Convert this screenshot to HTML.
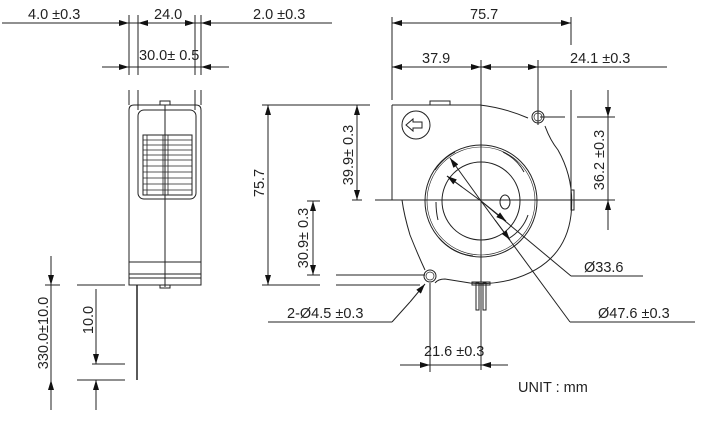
<!DOCTYPE html>
<html><head><meta charset="utf-8"><style>
html,body{margin:0;padding:0;background:#fff}
svg{display:block}
text{font-family:"Liberation Sans",sans-serif;font-size:14.5px;fill:#222}
</style></head><body>
<svg width="710" height="448" viewBox="0 0 710 448" xmlns="http://www.w3.org/2000/svg">
<defs>
<marker id="a" viewBox="0 0 10 6" refX="10" refY="3" markerWidth="14" markerHeight="6" orient="auto-start-reverse" markerUnits="userSpaceOnUse"><path d="M0,0L10,3L0,6z" fill="#111"/></marker>
</defs>
<g stroke="#222" stroke-width="1" fill="none">
<line x1="2" y1="23" x2="332" y2="23"/>
<line x1="115" y1="23" x2="129" y2="23" marker-end="url(#a)"/>
<line x1="152" y1="23" x2="138" y2="23" marker-end="url(#a)"/>
<line x1="181" y1="23" x2="195" y2="23" marker-end="url(#a)"/>
<line x1="215" y1="23" x2="201" y2="23" marker-end="url(#a)"/>
<line x1="102" y1="67" x2="229" y2="67"/>
<line x1="115" y1="67" x2="129" y2="67" marker-end="url(#a)"/>
<line x1="215" y1="67" x2="201" y2="67" marker-end="url(#a)"/>
<line x1="129" y1="15" x2="129" y2="75"/><line x1="138" y1="15" x2="138" y2="75"/>
<line x1="195" y1="15" x2="195" y2="75"/><line x1="201" y1="15" x2="201" y2="75"/>
<line x1="129" y1="90" x2="129" y2="105"/><line x1="138" y1="90" x2="138" y2="110"/>
<line x1="195" y1="90" x2="195" y2="110"/><line x1="201" y1="90" x2="201" y2="105"/>
<path d="M129,285V110q0,-5 5,-5H196q5,0 5,5V285Z"/>
<rect x="138" y="110" width="58" height="89" rx="6"/>
<rect x="143" y="135" width="49" height="60"/>
<g stroke-width="0.8">
<line x1="143" y1="140" x2="192" y2="140"/><line x1="143" y1="145" x2="192" y2="145"/>
<line x1="143" y1="150" x2="192" y2="150"/><line x1="143" y1="155" x2="192" y2="155"/>
<line x1="143" y1="160" x2="192" y2="160"/><line x1="143" y1="166" x2="192" y2="166"/>
<line x1="143" y1="172" x2="192" y2="172"/><line x1="143" y1="178" x2="192" y2="178"/>
<line x1="143" y1="184" x2="192" y2="184"/><line x1="143" y1="190" x2="192" y2="190"/>
<line x1="147" y1="135" x2="147" y2="195"/><line x1="163" y1="135" x2="163" y2="195"/><line x1="168" y1="135" x2="168" y2="195"/>
</g>
<rect x="160" y="101" width="10" height="4"/>
<rect x="160" y="285" width="10" height="3"/>
<line x1="165" y1="105" x2="165" y2="287"/>
<line x1="129" y1="262" x2="201" y2="262"/><line x1="129" y1="274" x2="201" y2="274"/><line x1="129" y1="278" x2="201" y2="278"/>
<line x1="137" y1="285" x2="137" y2="380" stroke-width="1.5"/>
<line x1="77" y1="285" x2="125" y2="285"/><line x1="77" y1="380" x2="125" y2="380"/>
<line x1="45" y1="285" x2="60" y2="285"/>
<line x1="51" y1="256" x2="51" y2="285" marker-end="url(#a)"/>
<line x1="51" y1="285" x2="51" y2="380"/>
<line x1="51" y1="410" x2="51" y2="380" marker-end="url(#a)"/>
<line x1="96" y1="289" x2="96" y2="364" marker-end="url(#a)"/>
<line x1="92" y1="364" x2="125" y2="364"/>
<line x1="96" y1="410" x2="96" y2="380" marker-end="url(#a)"/>
<line x1="262" y1="105" x2="370" y2="105"/>
<line x1="262" y1="285" x2="320" y2="285"/>
<line x1="336" y1="285" x2="420" y2="285"/>
<line x1="268" y1="120" x2="268" y2="105" marker-end="url(#a)"/>
<line x1="268" y1="120" x2="268" y2="270"/>
<line x1="268" y1="270" x2="268" y2="285" marker-end="url(#a)"/>
<line x1="357" y1="120" x2="357" y2="105" marker-end="url(#a)"/>
<line x1="357" y1="120" x2="357" y2="185"/>
<line x1="357" y1="185" x2="357" y2="200" marker-end="url(#a)"/>
<line x1="352" y1="200" x2="362" y2="200"/>
<line x1="313" y1="215" x2="313" y2="201" marker-end="url(#a)"/>
<line x1="313" y1="215" x2="313" y2="261"/>
<line x1="313" y1="261" x2="313" y2="275" marker-end="url(#a)"/>
<line x1="307" y1="201" x2="320" y2="201"/>
<line x1="307" y1="275" x2="320" y2="275"/>
<line x1="336" y1="275" x2="425" y2="275"/>
<line x1="392" y1="17" x2="392" y2="100"/>
<line x1="571" y1="17" x2="571" y2="45"/><line x1="571" y1="90" x2="571" y2="195"/>
<line x1="420" y1="23" x2="392" y2="23" marker-end="url(#a)"/>
<line x1="420" y1="23" x2="545" y2="23"/>
<line x1="545" y1="23" x2="571" y2="23" marker-end="url(#a)"/>
<line x1="392" y1="67" x2="667" y2="67"/>
<line x1="405" y1="67" x2="392" y2="67" marker-end="url(#a)"/>
<line x1="467" y1="67" x2="481" y2="67" marker-end="url(#a)"/>
<line x1="495" y1="67" x2="481" y2="67" marker-end="url(#a)"/>
<line x1="524" y1="67" x2="538" y2="67" marker-end="url(#a)"/>
<line x1="538" y1="60" x2="538" y2="125"/>
<line x1="481" y1="60" x2="481" y2="370"/>
<line x1="375" y1="200" x2="615" y2="200"/>
<line x1="540" y1="117" x2="565" y2="117"/><line x1="577" y1="117" x2="615" y2="117"/>
<line x1="608" y1="90" x2="608" y2="117" marker-end="url(#a)"/>
<line x1="608" y1="117" x2="608" y2="200"/>
<line x1="608" y1="230" x2="608" y2="200" marker-end="url(#a)"/>
<path d="M392,105H480Q505,108 528,118"/>
<circle cx="538" cy="117" r="6"/>
<circle cx="538" cy="117" r="4" stroke-width="0.7"/>
<path d="M545,126Q550,140 558,150Q575,180 571,215Q565,265 510,280Q490,285 470,283L445,279Q438,279 435,283"/>
<path d="M392,105V200H402Q404,215 410,235Q418,255 425,270"/>
<circle cx="430" cy="276" r="6"/>
<circle cx="430" cy="276" r="4" stroke-width="0.7"/>
<rect x="430" y="101" width="20" height="4"/>
<rect x="571" y="190" width="3" height="20"/>
<circle cx="481" cy="201" r="56"/>
<circle cx="481" cy="201" r="54" stroke-width="0.6"/>
<circle cx="481" cy="201" r="39"/>
<path d="M435,170q8,-12 20,-18M503,152q14,7 21,20M528,215q-5,15 -20,24M473,256q-20,-2 -34,-18M438,220q-2,-8 -2,-18"/>
<ellipse cx="505" cy="202" rx="5" ry="7"/>
<circle cx="416" cy="125" r="14"/>
<path d="M406,125l7,-6v3h9v6h-9v3z"/>
<rect x="476" y="283" width="3" height="27"/><rect x="483" y="283" width="3" height="27"/>
<rect x="472" y="282" width="18" height="3"/>
<line x1="481" y1="201" x2="450" y2="158" marker-end="url(#a)"/>
<line x1="481" y1="201" x2="447" y2="176"/>
<line x1="462" y1="187" x2="447" y2="176" marker-end="url(#a)"/>
<line x1="481" y1="201" x2="571" y2="276"/>
<line x1="481" y1="201" x2="506" y2="221" marker-end="url(#a)"/>
<line x1="571" y1="276" x2="643" y2="276"/>
<line x1="481" y1="201" x2="570" y2="322"/>
<line x1="495" y1="220" x2="510" y2="240" marker-end="url(#a)"/>
<line x1="570" y1="322" x2="695" y2="322"/>
<line x1="268" y1="322" x2="392" y2="322"/>
<line x1="392" y1="322" x2="410" y2="302"/>
<line x1="410" y1="302" x2="425" y2="284" marker-end="url(#a)"/>
<line x1="430" y1="283" x2="430" y2="372"/>
<line x1="400" y1="365" x2="508" y2="365"/>
<line x1="416" y1="365" x2="430" y2="365" marker-end="url(#a)"/>
<line x1="495" y1="365" x2="481" y2="365" marker-end="url(#a)"/>
</g>
<text x="28" y="19">4.0 ±0.3</text>
<text x="154" y="19">24.0</text>
<text x="253" y="19">2.0 ±0.3</text>
<text x="139" y="60">30.0± 0.5</text>
<text x="470" y="19">75.7</text>
<text x="422" y="63">37.9</text>
<text x="570" y="63">24.1 ±0.3</text>
<text transform="translate(48,333) rotate(-90)" text-anchor="middle">330.0±10.0</text>
<text transform="translate(93,320) rotate(-90)" text-anchor="middle">10.0</text>
<text transform="translate(264,183) rotate(-90)" text-anchor="middle">75.7</text>
<text transform="translate(353,155) rotate(-90)" text-anchor="middle">39.9± 0.3</text>
<text transform="translate(308,238) rotate(-90)" text-anchor="middle">30.9± 0.3</text>
<text transform="translate(604,160) rotate(-90)" text-anchor="middle">36.2 ±0.3</text>
<text x="584" y="272">Ø33.6</text>
<text x="598" y="318">Ø47.6 ±0.3</text>
<text x="287" y="318">2-Ø4.5 ±0.3</text>
<text x="424" y="356">21.6 ±0.3</text>
<text x="518" y="392">UNIT : mm</text>
</svg>
</body></html>
